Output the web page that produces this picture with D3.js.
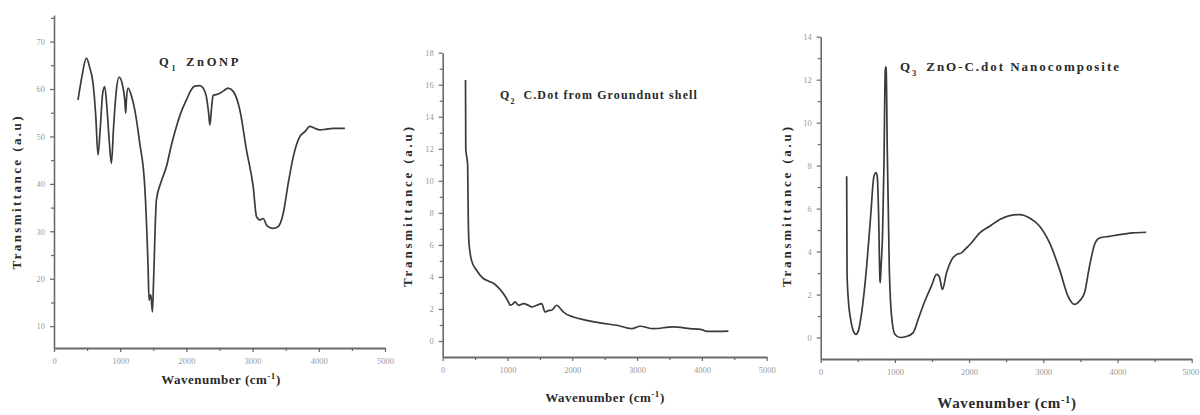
<!DOCTYPE html>
<html><head><meta charset="utf-8">
<script src="https://cdn.jsdelivr.net/npm/d3@7"></script>
<style>body{margin:0;background:#fff}svg{display:block}</style>
</head><body>
<svg id="c" width="1200" height="415"></svg>
<script>
// ---- data ----
const xTicks = [0, 1000, 2000, 3000, 4000, 5000];
const yTicks1 = [10, 20, 30, 40, 50, 60, 70];
const yTicks2 = [0, 2, 4, 6, 8, 10, 12, 14, 16, 18];
const yTicks3 = [0, 2, 4, 6, 8, 10, 12, 14];

const titles = ["ZnONP", "C.Dot from Groundnut shell", "ZnO-C.dot Nanocomposite"];
const subs = ["1", "2", "3"];
const xLabel = "Wavenumber (cm";
const yLabel = "Transmittance (a.u)";

const wn1 = [363,420,489,540,590,630,665,700,735,766,800,840,867,900,940,983,1040,1070,1083,1095,1119,1170,1220,1295,1371,1421,1436,1447,1462,1487,1505,1547,1620,1698,1770,1850,1930,2001,2060,2127,2200,2253,2300,2335,2354,2380,2404,2450,2505,2560,2631,2707,2807,2908,3009,3059,3110,3160,3211,3260,3311,3387,3463,3538,3614,3715,3790,3866,3942,4017,4100,4219,4300,4395];
const tr1 = [57.7,62.5,66.5,64.5,61.2,54.5,46.1,52,59,60.5,56,48,44.3,52,59.5,62.5,60.5,57.5,54.9,58,60.2,58.5,55.6,48.6,39.4,22.5,15.5,16.2,16.6,13.0,20,36.6,40.5,43.6,48,52.1,55.5,57.7,59.5,60.6,60.7,60.2,58.5,55,52.4,56,58.7,58.8,59.1,59.6,60.2,59.5,55.6,47.1,39.4,33.1,32.4,32.7,31.3,30.8,30.6,31.0,33.8,40.1,45.7,50.0,51.0,52.1,51.7,51.4,51.5,51.7,51.7,51.7];

const wn2 = [352,356,385,395,406,447,525,628,700,782,859,936,1013,1039,1080,1116,1168,1245,1322,1373,1451,1528,1579,1630,1682,1759,1800,1862,2016,2222,2428,2685,2917,3045,3251,3560,3817,3997,4074,4409];
const tr2 = [16.3,12.0,11.0,7.5,6.1,5.0,4.4,3.9,3.75,3.6,3.33,2.96,2.44,2.23,2.3,2.44,2.23,2.33,2.23,2.13,2.23,2.33,1.81,1.9,1.92,2.23,2.1,1.81,1.5,1.29,1.13,0.98,0.77,0.92,0.77,0.88,0.77,0.71,0.6,0.62];

const wn3 = [350,355,372,404,439,475,507,552,619,673,717,744,762,780,798,803,812,834,852,870,877,883,897,924,955,1000,1067,1157,1247,1314,1404,1493,1561,1596,1641,1695,1762,1830,1897,1964,2031,2143,2278,2413,2547,2682,2816,2951,3085,3220,3332,3422,3489,3556,3623,3691,3758,3892,4027,4206,4386];
const tr3 = [7.5,3.0,1.77,0.84,0.31,0.15,0.31,1.16,3.3,5.64,7.5,7.68,7.5,5.8,2.7,2.55,3.2,4.87,7.96,12.4,12.6,12.45,8.74,3.32,1.0,0.15,0.0,0.05,0.23,0.85,1.7,2.4,2.94,2.85,2.24,3.0,3.6,3.86,3.94,4.17,4.4,4.87,5.18,5.49,5.67,5.72,5.56,5.18,4.4,3.16,1.93,1.54,1.7,2.08,3.32,4.33,4.63,4.71,4.79,4.87,4.9];

// ---- layout ----
const panels = [
  {wn: wn1, tr: tr1, yTicks: yTicks1, yMinor: 5, xr: [54, 385], yd: [5.4, 75.6], yr: [348, 15],
   title: {x: 159, y: 66, size: 12.5, len: 74}, xl: {x: 221, y: 384, size: 13, len: 120}, yl: {x: 21, y: 193, size: 13, len: 153}},
  {wn: wn2, tr: tr2, yTicks: yTicks2, yMinor: 1, xr: [442.7, 766.7], yd: [-1, 18], yr: [357, 52.7],
   title: {x: 500, y: 99, size: 12, len: 190}, xl: {x: 605, y: 402, size: 13, len: 120}, yl: {x: 412, y: 207, size: 13, len: 160}},
  {wn: wn3, tr: tr3, yTicks: yTicks3, yMinor: 1, xr: [820.7, 1191.7], yd: [-1, 14], yr: [359, 36.7],
   title: {x: 900, y: 71, size: 13, len: 213}, xl: {x: 1007, y: 408, size: 15, len: 140}, yl: {x: 791, y: 207, size: 13, len: 160}}
];

const svg = d3.select("#c");
const serif = "'Liberation Serif','Times New Roman',serif";

panels.forEach((p, i) => {
  const x = d3.scaleLinear().domain([0, 5000]).range(p.xr);
  const y = d3.scaleLinear().domain(p.yd).range(p.yr);
  const g = svg.append("g");

  // x axis
  const xa = g.append("g").attr("transform", `translate(0,${p.yr[0]})`)
    .call(d3.axisBottom(x).tickValues(xTicks).tickFormat(d3.format("d")).tickSize(4).tickPadding(6).tickSizeOuter(0));
  xa.select(".domain").attr("stroke", "#6a6a6a").attr("stroke-width", 2.2);
  xa.selectAll(".tick line").attr("stroke", "#666").attr("stroke-width", 1.2);
  xa.selectAll("text").attr("fill", "#9a9a9a").style("font-family", serif).style("font-size", "8.5px");
  if (i === 2) xa.selectAll("text").filter(d => d === 5000).attr("text-anchor", "end").attr("dx", 7);
  // x minor ticks
  const xm = g.append("g").attr("transform", `translate(0,${p.yr[0]})`)
    .call(d3.axisBottom(x).tickValues(d3.range(500, 5000, 1000)).tickSize(3).tickFormat("").tickSizeOuter(0));
  xm.select(".domain").remove();
  xm.selectAll(".tick line").attr("stroke", "#666").attr("stroke-width", 1.2);

  // y axis
  const ya = g.append("g").attr("transform", `translate(${p.xr[0]},0)`)
    .call(d3.axisLeft(y).tickValues(p.yTicks).tickSize(4).tickPadding(5).tickSizeOuter(0));
  ya.select(".domain").attr("stroke", "#6a6a6a").attr("stroke-width", 1.6);
  ya.selectAll(".tick line").attr("stroke", "#666").attr("stroke-width", 1.2);
  ya.selectAll("text").attr("fill", "#9a9a9a").style("font-family", serif).style("font-size", "8.5px");
  const yMinorVals = p.yTicks.map(v => v + p.yMinor).filter(v => v < p.yd[1]);
  if (p.yTicks[0] - p.yMinor > p.yd[0]) yMinorVals.push(p.yTicks[0] - p.yMinor);
  const ym = g.append("g").attr("transform", `translate(${p.xr[0]},0)`)
    .call(d3.axisLeft(y).tickValues(yMinorVals).tickSize(3).tickFormat("").tickSizeOuter(0));
  ym.select(".domain").remove();
  ym.selectAll(".tick line").attr("stroke", "#666").attr("stroke-width", 1.2);

  // curve
  const pts = p.wn.map((w, k) => [w, p.tr[k]]);
  g.append("path").datum(pts)
    .attr("fill", "none").attr("stroke", "#3a3a3a").attr("stroke-width", 1.7)
    .attr("stroke-linejoin", "round")
    .attr("d", d3.line().x(d => x(d[0])).y(d => y(d[1])).curve(d3.curveMonotoneX));

  // title
  const t = g.append("text").attr("x", p.title.x).attr("y", p.title.y)
    .style("font-family", serif).style("font-weight", "bold").style("font-size", p.title.size + "px")
    .attr("fill", "#2a2a2a");
  t.append("tspan").text("Q");
  t.append("tspan").attr("baseline-shift", "sub").style("font-size", (p.title.size * 0.65) + "px").text(subs[i]);
  t.append("tspan").attr("dx", 8).text(titles[i]);
  const tw = t.node().getComputedTextLength();
  if (tw < p.title.len) t.style("letter-spacing", ((p.title.len - tw) / (titles[i].length + 2)) + "px");

  // x label
  const xt = g.append("text").attr("x", p.xl.x).attr("y", p.xl.y).attr("text-anchor", "middle")
    .style("font-family", serif).style("font-weight", "bold").style("font-size", p.xl.size + "px")
    .attr("fill", "#2a2a2a");
  xt.append("tspan").text(xLabel);
  xt.append("tspan").attr("baseline-shift", "super").style("font-size", (p.xl.size * 0.7) + "px").text("-1");
  xt.append("tspan").text(")");
  const xw = xt.node().getComputedTextLength();
  if (xw < p.xl.len) xt.style("letter-spacing", ((p.xl.len - xw) / 18) + "px");

  // y label
  g.append("text").attr("transform", `translate(${p.yl.x},${p.yl.y}) rotate(-90)`)
    .attr("text-anchor", "middle")
    .style("font-family", serif).style("font-weight", "bold").style("font-size", p.yl.size + "px")
    .attr("textLength", p.yl.len).attr("lengthAdjust", "spacing")
    .attr("fill", "#2a2a2a")
    .text(yLabel);
});
</script>
</body></html>
